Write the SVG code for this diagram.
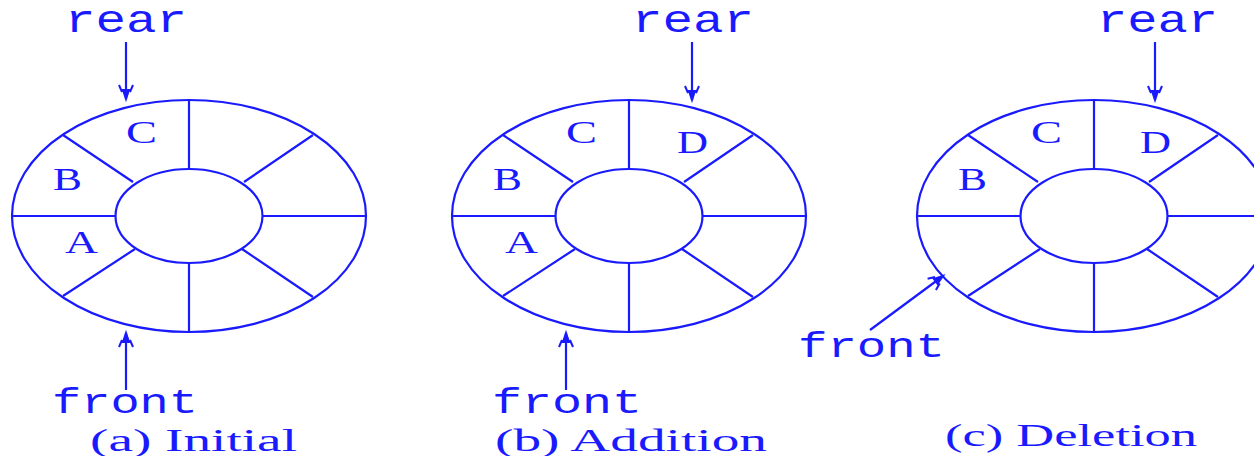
<svg xmlns="http://www.w3.org/2000/svg" width="1254" height="456" viewBox="0 0 1254 456">
<defs>
<style>
.ln{stroke:#1a1aff;stroke-width:2.2;fill:none}
.lbl{font-family:"Liberation Serif","Times New Roman",serif;font-size:31px;fill:#1a1aff}
.mono{font-family:"Liberation Mono","Courier New",monospace;font-size:38px;fill:#1a1aff}
.fr{font-size:35px}
.cap{font-family:"Liberation Serif","Times New Roman",serif;font-size:31px;fill:#1a1aff}
</style>
<marker id="ah" markerUnits="userSpaceOnUse" markerWidth="30" markerHeight="30" viewBox="-15 -15 30 30" refX="0" refY="0" orient="auto" overflow="visible">
<path d="M-14,-7 L-7,-4 M-14,7 L-7,4 M-9,-3 L0,0 L-9,3 Z" stroke="#1a1aff" stroke-width="2" fill="#1a1aff"/>
</marker>
<g id="ringShape">
<ellipse class="ln" cx="189" cy="216" rx="177" ry="116"/>
<ellipse class="ln" cx="189" cy="216" rx="73.5" ry="47"/>
<path class="ln" d="M189,100 V169 M189,263 V332 M12,216 H115.5 M262.5,216 H366 M63,135 L133,182 M313,135 L244,182 M63,296 L135,249 M313,297 L242,249"/>
</g>
</defs>

<g id="ringA">
<use href="#ringShape"/>
<text class="lbl" x="126" y="143" textLength="31" lengthAdjust="spacingAndGlyphs">C</text>
<text class="lbl" x="53" y="190" textLength="29" lengthAdjust="spacingAndGlyphs">B</text>
<text class="lbl" x="65" y="253" textLength="33" lengthAdjust="spacingAndGlyphs">A</text>
</g>

<g id="ringB" transform="translate(440,0)">
<use href="#ringShape"/>
<text class="lbl" x="126" y="143" textLength="31" lengthAdjust="spacingAndGlyphs">C</text>
<text class="lbl" x="237" y="153" textLength="31" lengthAdjust="spacingAndGlyphs">D</text>
<text class="lbl" x="53" y="190" textLength="29" lengthAdjust="spacingAndGlyphs">B</text>
<text class="lbl" x="65" y="253" textLength="33" lengthAdjust="spacingAndGlyphs">A</text>
</g>

<g id="ringC" transform="translate(905,0)">
<use href="#ringShape"/>
<text class="lbl" x="126" y="143" textLength="31" lengthAdjust="spacingAndGlyphs">C</text>
<text class="lbl" x="235" y="153" textLength="31" lengthAdjust="spacingAndGlyphs">D</text>
<text class="lbl" x="53" y="190" textLength="29" lengthAdjust="spacingAndGlyphs">B</text>
</g>

<g id="labels">
<text class="mono" x="65" y="32" textLength="122" lengthAdjust="spacingAndGlyphs">rear</text>
<text class="mono fr" x="52" y="413" textLength="146" lengthAdjust="spacingAndGlyphs">front</text>
<text class="cap" x="90" y="451" textLength="207" lengthAdjust="spacingAndGlyphs">(a) Initial</text>
<text class="mono" x="632" y="32" textLength="122" lengthAdjust="spacingAndGlyphs">rear</text>
<text class="mono fr" x="492" y="413" textLength="150" lengthAdjust="spacingAndGlyphs">front</text>
<text class="cap" x="495" y="451" textLength="272" lengthAdjust="spacingAndGlyphs">(b) Addition</text>
<text class="mono" x="1097" y="32" textLength="121" lengthAdjust="spacingAndGlyphs">rear</text>
<text class="mono fr" x="798" y="357" textLength="147" lengthAdjust="spacingAndGlyphs">front</text>
<text class="cap" x="945" y="446" textLength="252" lengthAdjust="spacingAndGlyphs">(c) Deletion</text>
</g>

<g id="connectors">
<line class="ln" x1="126" y1="42" x2="126" y2="99" marker-end="url(#ah)"/>
<line class="ln" x1="126" y1="390" x2="126" y2="333" marker-end="url(#ah)"/>
<line class="ln" x1="692" y1="42" x2="692" y2="100" marker-end="url(#ah)"/>
<line class="ln" x1="566" y1="390" x2="566" y2="333" marker-end="url(#ah)"/>
<line class="ln" x1="1155" y1="42" x2="1155" y2="100" marker-end="url(#ah)"/>
<line class="ln" x1="870" y1="330" x2="943" y2="276" marker-end="url(#ah)"/>
</g>
</svg>
